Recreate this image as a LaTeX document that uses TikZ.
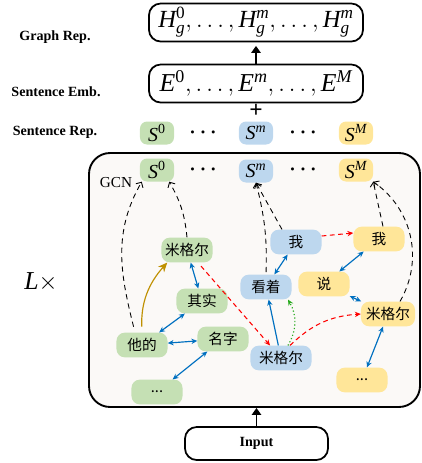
\documentclass[tikz,border=0pt]{standalone}
\usepackage{amsmath}
\usepackage{fontspec}
\setmainfont{Liberation Serif}
\newfontfamily\cjk{Noto Sans CJK SC}
\usepackage{tikz}
\usetikzlibrary{arrows,arrows.meta,shapes,calc,positioning}
\definecolor{grn}{RGB}{197,224,180}
\definecolor{blu}{RGB}{189,215,238}
\definecolor{ylw}{RGB}{255,230,153}
\definecolor{lnk}{RGB}{0,112,192}
\definecolor{gld}{RGB}{191,144,0}
\definecolor{grnarr}{RGB}{40,170,30}
\definecolor{bgc}{RGB}{251,249,247}
\newcommand{\tv}[1]{\mathit{#1}}
\tikzstyle{word}  =[rounded corners=7pt, minimum width=1.53cm,
                    minimum height=0.74cm, inner sep=1pt,
                    font=\cjk\fontsize{12.5}{14}\selectfont]
\tikzstyle{sent}  =[rounded corners=6pt, minimum width=1.02cm,
                    minimum height=0.69cm, inner sep=1pt,
                    font=\fontsize{17}{18}\selectfont]
\tikzstyle{rowbox}=[draw, line width=1.5pt, rounded corners=10pt,
                    minimum width=6.42cm, minimum height=1.14cm]
\tikzstyle{side}  =[font=\bfseries\fontsize{12}{14}\selectfont]
\tikzstyle{dotsep}=[font=\fontsize{17}{18}\selectfont]
\tikzstyle{dep}   =[lnk, line width=1pt,
                    {Stealth[length=5pt,width=4.5pt]}-{Stealth[length=5pt,width=4.5pt]}]
\tikzstyle{xlink} =[red, line width=0.9pt, dash pattern=on 4pt off 3pt,
                    -{Stealth[length=5pt,width=4.5pt]}]
\tikzstyle{pool}  =[line width=0.75pt, dash pattern=on 4.5pt off 3.5pt,
                    -{Straight Barb[length=3.5pt,width=7pt]}]
\tikzstyle{flow}  =[line width=1.6pt, -{Triangle[length=6pt,width=8pt]}]

\begin{document}
\begin{tikzpicture}[x=0.03cm, y=-0.03cm]
        \useasboundingbox (0,0) rectangle (422,463);

        % output part
        \node[rowbox, font=\fontsize{21}{22}\selectfont] (hrep) at (256,22.5)
            {$\tv{H}_{\tv{g}}^{\mathrm{0}}, \ldots, \tv{H}_{\tv{g}}^{\tv{m}}, \ldots, \tv{H}_{\tv{g}}^{\tv{m}}$};
        \node[rowbox, font=\fontsize{22}{24}\selectfont] (emb) at (256,83.5)
            {$\tv{E}^{\mathrm{0}}, \ldots, \tv{E}^{\tv{m}}, \ldots, \tv{E}^{\tv{M}}$};
        \node[font=\bfseries\fontsize{20}{20}\selectfont, inner sep=0pt] (plus) at (256,111) {+};
        \draw[flow, shorten >=3pt] (emb) to (hrep);

        \node[sent, fill=grn] (r0) at (157,133) {$\tv{S}^{\mathrm{0}}$};
        \node[sent, fill=blu] (rm) at (256,133) {$\tv{S}^{\tv{m}}$};
        \node[sent, fill=ylw] (rM) at (356,133) {$\tv{S}^{\tv{M}}$};
        \node[dotsep] (rd1) at (205,133) {$\boldsymbol{\cdots}$};
        \node[dotsep] (rd2) at (305,133) {$\boldsymbol{\cdots}$};

        \node[side] (lgraph) at (55,37) {Graph Rep.};
        \node[side] (lemb) at (56,92) {Sentence Emb.};
        \node[side] (lrep) at (55,132) {Sentence Rep.};

        % gcn block
        \node[draw, line width=1.6pt, rounded corners=18pt, fill=bgc,
              minimum width=9.93cm, minimum height=7.62cm] (gcn) at (254.5,280) {};
        \node[font=\fontsize{13}{14}\selectfont] (gcnlab) at (116,183) {GCN};
        \node[font=\fontsize{22}{24}\selectfont] (times) at (41,282) {$\tv{L}\times$};

        \node[sent, fill=grn] (s0) at (157,170) {$\tv{S}^{\mathrm{0}}$};
        \node[sent, fill=blu] (sm) at (256,171) {$\tv{S}^{\tv{m}}$};
        \node[sent, fill=ylw] (sM) at (356,170) {$\tv{S}^{\tv{M}}$};
        \node[dotsep] (sd1) at (205,170) {$\boldsymbol{\cdots}$};
        \node[dotsep] (sd2) at (305,170) {$\boldsymbol{\cdots}$};

        \node[word, fill=grn] (g1) at (187,250) {米格尔};
        \node[word, fill=grn] (g2) at (202,301) {其实};
        \node[word, fill=grn] (g3) at (142,345) {他的};
        \node[word, fill=grn] (g4) at (223,339) {名字};
        \node[word, fill=grn] (g5) at (157,392) {...};

        \node[word, fill=blu] (b1) at (296,242) {我};
        \node[word, fill=blu] (b2) at (266,287) {看着};
        \node[word, fill=blu, minimum width=1.83cm] (b3) at (281,358) {米格尔};

        \node[word, fill=ylw] (y1) at (379,239) {我};
        \node[word, fill=ylw] (y2) at (324,284) {说};
        \node[word, fill=ylw, minimum width=1.62cm] (y3) at (388,314) {米格尔};
        \node[word, fill=ylw] (y4) at (362,380) {...};

        \draw[dep] (g1) to (g2);
        \draw[dep] (g2) to (g3);
        \draw[dep] (g3) to (g4);
        \draw[dep] (g4) to (g5);
        \draw[dep] (b1) to (b2);
        \draw[lnk, line width=1pt, -{Stealth[length=5pt,width=4.5pt]}] (b3) to (b2);
        \draw[dep] (y1) to (y2);
        \draw[dep] (y2) to (y3);
        \draw[dep] (y3) to (y4);

        \draw[gld, line width=1pt, -{Stealth[length=8pt,width=7pt]}, shorten <=5pt]
            (g3.north) to[bend left=22] ([xshift=0.18cm]g1.south west);
        \draw[grnarr, line width=1pt, dotted, -{Stealth[length=5pt,width=4.5pt]}]
            ([xshift=0.21cm]b3.north) to[bend right=30] ([xshift=0.66cm]b2.south);

        \draw[xlink, shorten <=4pt] (g1) to (b3);
        \draw[xlink] ([xshift=0.27cm]b3.north) to[bend left=20] (y3.west);
        \draw[xlink] ([yshift=0.18cm]b1.east) to ([yshift=0.18cm]y1.west);

        \draw[pool, shorten <=5pt] ([xshift=-0.21cm]g3.north) to[out=104, in=240]
            ([xshift=0.06cm]s0.south west);
        \draw[pool] (g1.north) to[bend right=12] ([xshift=-0.15cm]s0.south east);
        \draw[pool, shorten <=2pt] (b2.north) to[bend right=8] (sm.south);
        \draw[pool] ([xshift=-0.42cm]b1.north) to (sm.south);
        \draw[pool] ([xshift=0.12cm]y1.north) to (sM.south east);
        \draw[pool] ([xshift=0.36cm]y3.north) to[out=60, in=-35] (sM.south east);

        % input
        \node[rowbox, minimum width=4.29cm, minimum height=0.99cm,
              font=\bfseries\fontsize{12}{14}\selectfont] (inp) at (256.5,443.5) {Input};
        \draw[flow] (inp.north) to (inp.north |- gcn.south);
\end{tikzpicture}
\end{document}
